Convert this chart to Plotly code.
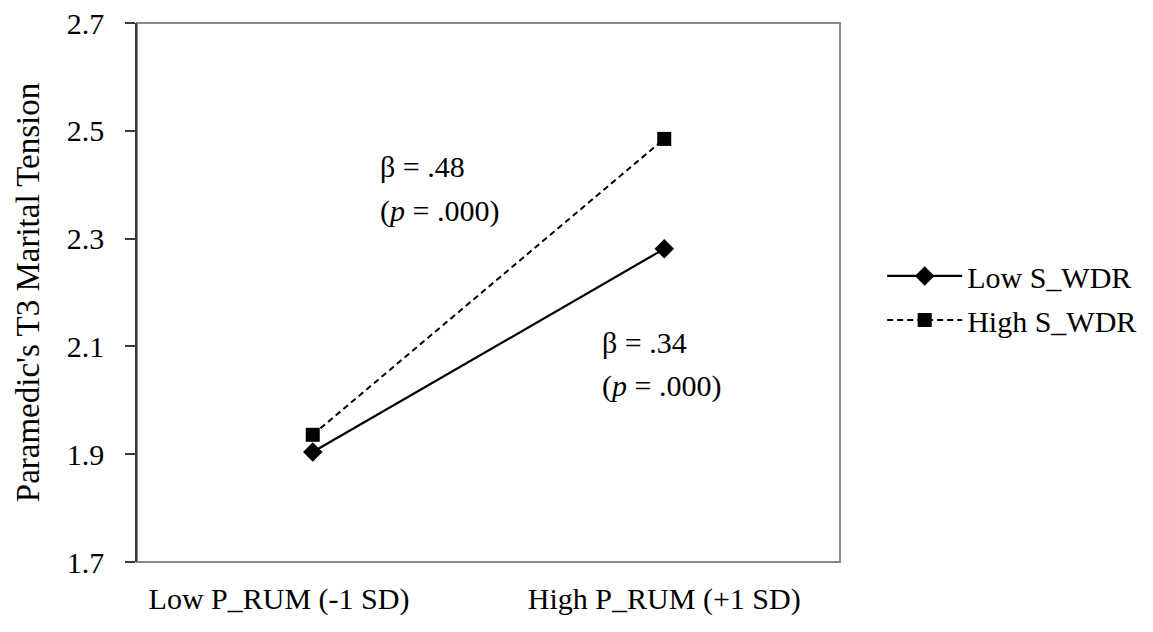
import plotly.graph_objects as go

categories = ["Low P_RUM (-1 SD)", "High P_RUM (+1 SD)"]
category_labels = ["Low P_RUM (-1 SD)" + "\u00a0" * 9, "High P_RUM (+1 SD)"]
low_s_wdr = [1.904, 2.281]
high_s_wdr = [1.936, 2.485]
y_ticks = [1.7, 1.9, 2.1, 2.3, 2.5, 2.7]

FONT = "Liberation Serif, Times New Roman, serif"
FS = 30

fig = go.Figure()
fig.add_trace(go.Scatter(
    x=categories, y=low_s_wdr, name="Low S_WDR", mode="lines+markers",
    line=dict(color="black", width=2.2),
    marker=dict(symbol="diamond", size=15, color="black"),
    legendgroup="a",
))
fig.add_trace(go.Scatter(
    x=categories, y=high_s_wdr, name="High S_WDR", mode="lines+markers",
    line=dict(color="black", width=2, dash="6px,4px"),
    marker=dict(symbol="square", size=14, color="black"),
    legendgroup="b",
))

ann_font = dict(family=FONT, size=FS, color="black")
for x, y, t in [(0.186, 2.433, "β = .48"), (0.186, 2.351, "(<i>p</i> = .000)"),
                (0.817, 2.108, "β = .34"), (0.817, 2.027, "(<i>p</i> = .000)")]:
    fig.add_annotation(x=x, y=y, xref="x", yref="y", xanchor="left", yanchor="middle",
                       text=t, showarrow=False, font=ann_font)

# gray plot-area frame
fig.add_shape(type="rect", xref="paper", yref="paper", x0=0, x1=1, y0=0, y1=1,
              line=dict(color="#8a8a8a", width=2), layer="below")

fig.update_layout(
    width=1153, height=632,
    margin=dict(l=129, r=321, t=15, b=78),
    paper_bgcolor="white", plot_bgcolor="white",
    font=dict(family=FONT, size=FS, color="black"),
    showlegend=True,
    legend=dict(x=1.06, y=0.49, xanchor="left", yanchor="middle",
                font=dict(family=FONT, size=FS, color="black"),
                bgcolor="rgba(0,0,0,0)", tracegroupgap=2, itemwidth=75),
)
fig.update_xaxes(
    type="category", range=[-0.5, 1.5],
    tickvals=categories, ticktext=category_labels,
    showgrid=False, zeroline=False, showline=False,
    ticks="", tickfont=dict(family=FONT, size=FS, color="black"),
    ticklabelstandoff=16, automargin=False,
)
fig.update_yaxes(
    range=[1.7, 2.7], tickvals=y_ticks, ticktext=[f"{v:.1f}" for v in y_ticks],
    showgrid=False, zeroline=False,
    showline=True, linecolor="#3a3a3a", linewidth=1.5,
    ticks="outside", ticklen=10, tickcolor="#3a3a3a", tickwidth=1.5,
    tickfont=dict(family=FONT, size=FS, color="black"),
    ticklabelstandoff=15, ticklabeloverflow="allow", automargin="left",
    title=dict(text="Paramedic's T3 Marital Tension", font=dict(family=FONT, size=33, color="black"), standoff=17),
)

fig.write_html("out.html")
